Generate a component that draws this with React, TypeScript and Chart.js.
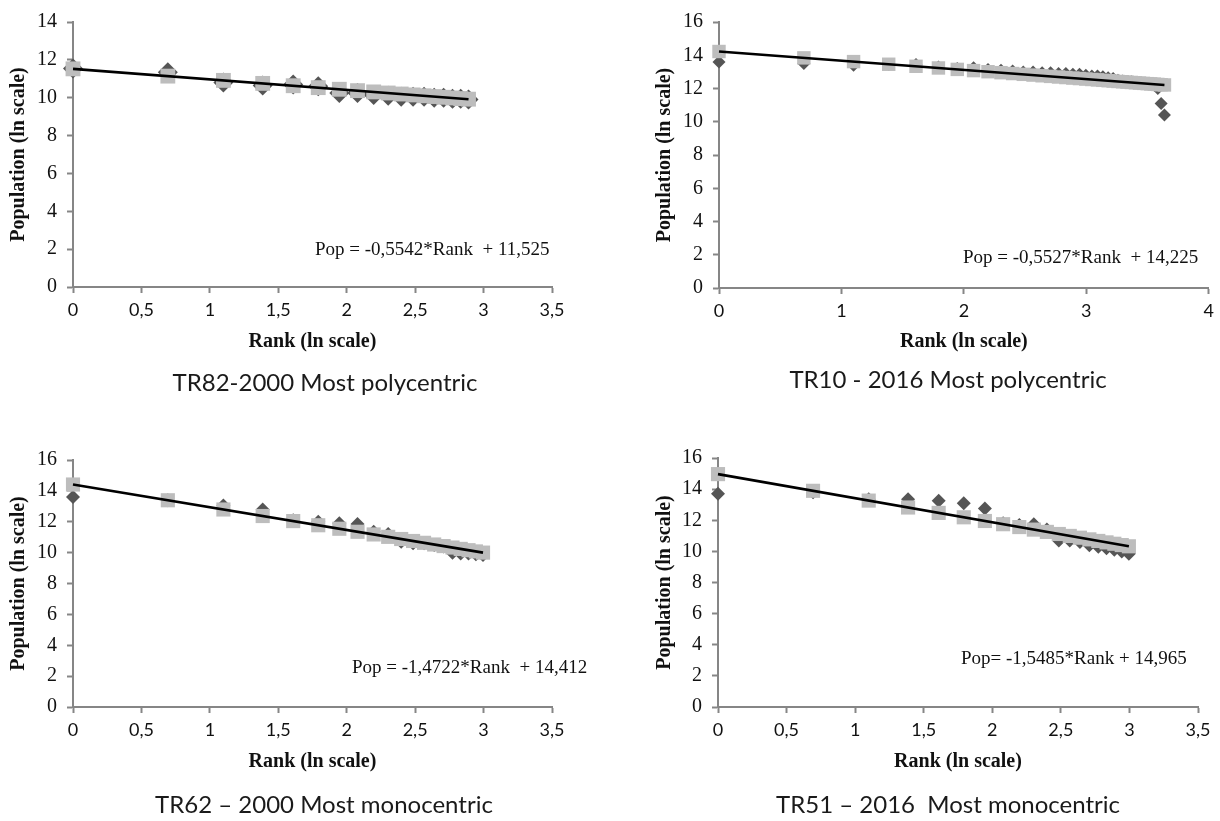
import React, { useEffect, useRef } from "react";
import { Chart, registerables } from "chart.js";

Chart.register(...registerables);

// ---------- DATA ----------
// TR82 - 2000 (18 ranks)
const rankTR82 = [0, 0.693, 1.099, 1.386, 1.609, 1.792, 1.946, 2.079, 2.197, 2.303, 2.398, 2.485, 2.565, 2.639, 2.708, 2.773, 2.833, 2.89];
const popTR82 = [11.55, 11.35, 10.8, 10.65, 10.7, 10.6, 10.25, 10.25, 10.15, 10.1, 10.05, 10.05, 10.05, 10.0, 10.0, 9.95, 9.95, 9.9];
const fitTR82 = [11.525, 11.141, 10.916, 10.757, 10.633, 10.532, 10.446, 10.373, 10.307, 10.249, 10.196, 10.148, 10.103, 10.062, 10.024, 9.988, 9.955, 9.923];

// TR10 - 2016 (38 ranks)
const rankTR10 = [0, 0.693, 1.099, 1.386, 1.609, 1.792, 1.946, 2.079, 2.197, 2.303, 2.398, 2.485, 2.565, 2.639, 2.708, 2.773, 2.833, 2.89, 2.944, 2.996, 3.045, 3.091, 3.135, 3.178, 3.219, 3.258, 3.296, 3.332, 3.367, 3.401, 3.434, 3.466, 3.497, 3.526, 3.555, 3.584, 3.611, 3.638];
const popTR10 = [13.6, 13.5, 13.4, 13.45, 13.45, 13.3, 13.2, 13.25, 13.15, 13.1, 13.05, 13.0, 13.0, 12.95, 12.95, 12.9, 12.9, 12.85, 12.85, 12.8, 12.75, 12.75, 12.7, 12.65, 12.6, 12.5, 12.45, 12.4, 12.4, 12.35, 12.35, 12.3, 12.3, 12.25, 12.2, 12.0, 11.1, 10.4];
const fitTR10 = [14.225, 13.842, 13.618, 13.459, 13.336, 13.235, 13.149, 13.076, 13.011, 12.952, 12.9, 12.852, 12.807, 12.766, 12.728, 12.692, 12.659, 12.628, 12.598, 12.569, 12.542, 12.517, 12.492, 12.469, 12.446, 12.424, 12.403, 12.383, 12.364, 12.345, 12.327, 12.309, 12.292, 12.276, 12.26, 12.244, 12.229, 12.214];

// TR62 - 2000 (20 ranks)
const rankTR62 = [0, 0.693, 1.099, 1.386, 1.609, 1.792, 1.946, 2.079, 2.197, 2.303, 2.398, 2.485, 2.565, 2.639, 2.708, 2.773, 2.833, 2.89, 2.944, 2.996];
const popTR62 = [13.6, 13.4, 13.05, 12.8, 12.1, 12.0, 11.9, 11.85, 11.35, 11.2, 10.7, 10.6, 10.6, 10.5, 10.4, 10.0, 9.95, 9.95, 9.9, 9.85];
const fitTR62 = [14.412, 13.392, 12.794, 12.371, 12.043, 11.774, 11.547, 11.351, 11.178, 11.022, 10.882, 10.754, 10.636, 10.527, 10.425, 10.33, 10.241, 10.157, 10.078, 10.001];

// TR51 - 2016 (20 ranks)
const rankTR51 = [0, 0.693, 1.099, 1.386, 1.609, 1.792, 1.946, 2.079, 2.197, 2.303, 2.398, 2.485, 2.565, 2.639, 2.708, 2.773, 2.833, 2.89, 2.944, 2.996];
const popTR51 = [13.7, 13.8, 13.35, 13.35, 13.25, 13.1, 12.75, 11.8, 11.7, 11.75, 11.4, 10.7, 10.7, 10.6, 10.4, 10.3, 10.2, 10.1, 10.0, 9.85];
const fitTR51 = [14.965, 13.892, 13.263, 12.819, 12.473, 12.19, 11.952, 11.746, 11.563, 11.399, 11.252, 11.117, 10.993, 10.879, 10.772, 10.671, 10.578, 10.49, 10.406, 10.326];

const xTitle = "Rank (ln scale)";
const yTitle = "Population (ln scale)";
const equations = [
  "Pop = -0,5542*Rank  + 11,525",
  "Pop = -0,5527*Rank  + 14,225",
  "Pop = -1,4722*Rank  + 14,412",
  "Pop= -1,5485*Rank + 14,965",
];
const subtitles = [
  "TR82-2000 Most polycentric",
  "TR10 - 2016 Most polycentric",
  "TR62 \u2013 2000 Most monocentric",
  "TR51 \u2013 2016  Most monocentric",
];
const xMaxes = [3.5, 4, 3.5, 3.5];
const xSteps = [0.5, 1, 0.5, 0.5];
const yMaxes = [14, 16, 16, 16];

const series = [
  { x: rankTR82, obs: popTR82, fit: fitTR82 },
  { x: rankTR10, obs: popTR10, fit: fitTR10 },
  { x: rankTR62, obs: popTR62, fit: fitTR62 },
  { x: rankTR51, obs: popTR51, fit: fitTR51 },
];

// ---------- LAYOUT / STYLE ----------
const layouts = [
  { left: 0, top: 0, w: 610, h: 410, pad: { left: 7, right: 58, top: 19, bottom: 56 }, yW: 66, xH: 67, eq: [315, 250], sub: [325, 383], dia: 10, sq: 10.5 },
  { left: 610, top: 0, w: 610, h: 410, pad: { left: 43, right: 8, top: 19, bottom: 56 }, yW: 66, xH: 66, eq: [353, 258], sub: [338, 380], dia: 6.5, sq: 9.5 },
  { left: 0, top: 410, w: 610, h: 411, pad: { left: 7, right: 58, top: 50, bottom: 47 }, yW: 66, xH: 67, eq: [352, 258], sub: [324, 395], dia: 7, sq: 10 },
  { left: 610, top: 410, w: 610, h: 411, pad: { left: 43, right: 22, top: 48, bottom: 47 }, yW: 65, xH: 67, eq: [351, 249], sub: [338, 395], dia: 7, sq: 10 },
];

const AXIS = "#868686";
const TEXT = "#111111";

const panelText = {
  id: "panelText",
  afterDraw(chart: any, _args: any, opts: any) {
    const ctx = chart.ctx;
    ctx.save();
    ctx.fillStyle = TEXT;
    ctx.textBaseline = "middle";
    ctx.textAlign = "left";
    ctx.font = '19px "Liberation Serif"';
    ctx.fillText(opts.equation, opts.eqX, opts.eqY);
    ctx.textAlign = "center";
    ctx.font = '400 24px Lato';
    ctx.fillStyle = "#1a1a1a";
    ctx.fillText(opts.subtitle, opts.subX, opts.subY);
    ctx.restore();
  },
};

function Panel({ idx }: { idx: number }) {
  const ref = useRef<HTMLCanvasElement | null>(null);
  const L = layouts[idx];
  useEffect(() => {
    const s = series[idx];
    const last = s.x.length - 1;
    const chart = new Chart(ref.current as HTMLCanvasElement, {
      type: "scatter",
      data: {
        datasets: [
          {
            type: "line",
            data: [
              { x: s.x[0], y: s.fit[0] },
              { x: s.x[last], y: s.fit[last] },
            ],
            borderColor: "#000",
            borderWidth: 2.6,
            pointRadius: 0,
            clip: false,
            order: 0,
          } as any,
          {
            data: s.x.map((x, i) => ({ x, y: s.fit[i] })),
            pointStyle: "rect",
            pointRadius: L.sq,
            backgroundColor: "#bdbdbd",
            borderWidth: 0,
            clip: false,
            order: 1,
          },
          {
            data: s.x.map((x, i) => ({ x, y: s.obs[i] })),
            pointStyle: "rectRot",
            pointRadius: L.dia,
            backgroundColor: "#555555",
            borderWidth: 0,
            clip: false,
            order: 2,
          },
        ],
      },
      options: {
        animation: false,
        responsive: false,
        devicePixelRatio: 1,
        layout: { padding: L.pad },
        plugins: {
          legend: { display: false },
          tooltip: { enabled: false },
          panelText: {
            equation: equations[idx],
            subtitle: subtitles[idx],
            eqX: L.eq[0],
            eqY: L.eq[1],
            subX: L.sub[0],
            subY: L.sub[1],
          },
        } as any,
        scales: {
          x: {
            type: "linear",
            min: 0,
            max: xMaxes[idx],
            ticks: {
              stepSize: xSteps[idx],
              autoSkip: false,
              maxRotation: 0,
              padding: 6,
              color: TEXT,
              font: { family: "Lato", size: 18 },
              callback: (v: any) => String(v).replace(".", ","),
            },
            grid: { drawOnChartArea: false, drawTicks: true, tickLength: 6, tickColor: AXIS, tickWidth: 2 },
            border: { display: true, color: AXIS, width: 2 },
            title: {
              display: true,
              text: xTitle,
              color: TEXT,
              padding: 0,
              font: { family: "Liberation Serif", size: 20, weight: "bold", lineHeight: 1.2 },
            },
            afterFit: (sc: any) => {
              sc.height = L.xH;
            },
          },
          y: {
            type: "linear",
            min: 0,
            max: yMaxes[idx],
            ticks: {
              stepSize: 2,
              padding: 10,
              color: TEXT,
              font: { family: "Liberation Serif", size: 20 },
            },
            grid: { drawOnChartArea: false, drawTicks: true, tickLength: 6, tickColor: AXIS, tickWidth: 2 },
            border: { display: true, color: AXIS, width: 2 },
            title: {
              display: true,
              text: yTitle,
              color: TEXT,
              padding: 0,
              font: { family: "Liberation Serif", size: 20, weight: "bold", lineHeight: 1.2 },
            },
            afterFit: (sc: any) => {
              sc.width = L.yW;
            },
          },
        },
      },
      plugins: [panelText],
    });
    return () => chart.destroy();
  }, [idx]);
  return (
    <canvas
      ref={ref}
      width={L.w}
      height={L.h}
      style={{ position: "absolute", left: L.left, top: L.top, width: L.w, height: L.h }}
    />
  );
}

export default function App() {
  return (
    <div style={{ position: "absolute", left: 0, top: 0, width: 1220, height: 821, background: "#fff", overflow: "hidden" }}>
      {[0, 1, 2, 3].map((i) => (
        <Panel key={i} idx={i} />
      ))}
    </div>
  );
}
